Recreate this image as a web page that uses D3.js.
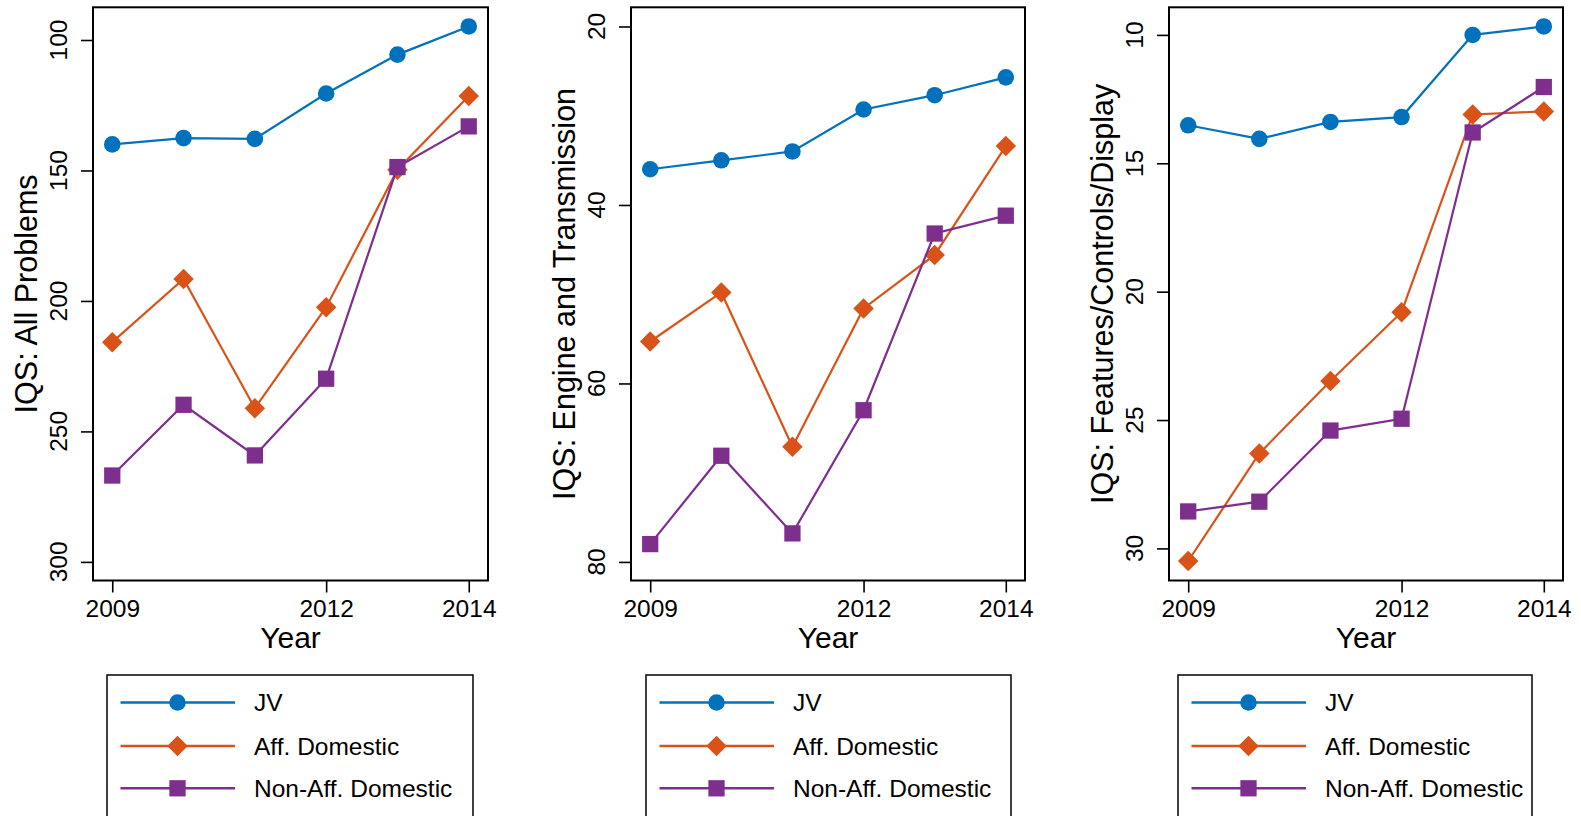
<!DOCTYPE html>
<html>
<head>
<meta charset="utf-8">
<script src="https://cdn.jsdelivr.net/npm/d3@7"></script>
<style>
  html, body { margin: 0; padding: 0; background: #fff; }
  svg { display: block; font-family: "Liberation Sans", Arial, Helvetica, sans-serif; }
</style>
</head>
<body>
<svg id="chart" width="1581" height="816"></svg>
<script>
// ---- data ----
const years = [2009, 2010, 2011, 2012, 2013, 2014];
const xTickValues = [2009, 2012, 2014];
const seriesNames = ["JV", "Aff. Domestic", "Non-Aff. Domestic"];

const allJV     = [140.0, 137.6, 137.9, 120.5, 105.6, 94.8];
const allAff    = [215.8, 191.6, 241.1, 202.4, 149.7, 121.5];
const allNonAff = [266.9, 239.8, 259.2, 229.8, 148.7, 133.1];

const engJV     = [36.0, 35.0, 34.0, 29.3, 27.7, 25.7];
const engAff    = [55.3, 49.8, 67.1, 51.6, 45.6, 33.4];
const engNonAff = [78.0, 68.1, 76.8, 63.0, 43.2, 41.2];

const featJV     = [13.52, 14.05, 13.39, 13.2, 10.0, 9.67];
const featAff    = [30.49, 26.3, 23.48, 20.8, 13.1, 12.98];
const featNonAff = [28.56, 28.18, 25.41, 24.95, 13.8, 12.03];

const panelTitles = ["IQS: All Problems", "IQS: Engine and Transmission", "IQS: Features/Controls/Display"];
const yTicksAll  = [100, 150, 200, 250, 300];
const yTicksEng  = [20, 40, 60, 80];
const yTicksFeat = [10, 15, 20, 25, 30];
// axis ranges (top value, bottom value) — reversed axes
const yRangeAll  = [87.47, 307.13];
const yRangeEng  = [17.85, 82.08];
const yRangeFeat = [8.925, 31.25];
const xRange = [2008.73, 2014.27];

// ---- styles / layout ----
const colors = ["#0072BD", "#D95319", "#7E2F8E"];
const symbols = [d3.symbolCircle, d3.symbolSquare, d3.symbolSquare];
const symSizes = [215, 210, 265];
const symRot = [0, 45, 0];

const panels = [
  { title: panelTitles[0], data: [allJV, allAff, allNonAff], ticks: yTicksAll, yr: yRangeAll,
    L: 93, R: 488, legL: 107, legR: 473 },
  { title: panelTitles[1], data: [engJV, engAff, engNonAff], ticks: yTicksEng, yr: yRangeEng,
    L: 631, R: 1025, legL: 646, legR: 1011 },
  { title: panelTitles[2], data: [featJV, featAff, featNonAff], ticks: yTicksFeat, yr: yRangeFeat,
    L: 1169, R: 1563, legL: 1178, legR: 1532 }
];
const TOP = 7.3, BOTTOM = 580.5;

const svg = d3.select("#chart");

panels.forEach(p => {
  const x = d3.scaleLinear().domain(xRange).range([p.L, p.R]);
  const y = d3.scaleLinear().domain(p.yr).range([TOP, BOTTOM]);
  const g = svg.append("g");

  // y axis
  const yAx = g.append("g").attr("transform", `translate(${p.L},0)`)
    .call(d3.axisLeft(y).tickValues(p.ticks).tickSize(12).tickFormat(d3.format("d")));
  yAx.select(".domain").remove();
  yAx.selectAll(".tick line").attr("stroke", "#000").attr("stroke-width", 1.6);
  yAx.selectAll(".tick text").remove();
  p.ticks.forEach(t => {
    g.append("text")
      .attr("transform", `translate(${p.L - 26.5},${y(t)}) rotate(-90)`)
      .attr("text-anchor", "middle")
      .attr("font-size", 24.5).attr("fill", "#000")
      .text(t);
  });

  // x axis
  const xAx = g.append("g").attr("transform", `translate(0,${BOTTOM})`)
    .call(d3.axisBottom(x).tickValues(xTickValues).tickSize(12).tickFormat(d3.format("d")));
  xAx.select(".domain").remove();
  xAx.selectAll(".tick line").attr("stroke", "#000").attr("stroke-width", 1.6);
  xAx.selectAll(".tick text").attr("font-size", 24.5).attr("fill", "#000")
    .attr("y", 0).attr("dy", 0)
    .attr("transform", "translate(0,36.5)")
    .attr("font-family", "Liberation Sans, Arial, sans-serif");

  // frame
  g.append("rect").attr("x", p.L).attr("y", TOP).attr("width", p.R - p.L).attr("height", BOTTOM - TOP)
    .attr("fill", "none").attr("stroke", "#000").attr("stroke-width", 2);

  // axis titles
  g.append("text")
    .attr("transform", `translate(${p.L - 56},${(TOP + BOTTOM) / 2}) rotate(-90)`)
    .attr("text-anchor", "middle").attr("font-size", 30.5).attr("fill", "#000")
    .text(p.title);
  g.append("text")
    .attr("x", (p.L + p.R) / 2).attr("y", 648)
    .attr("text-anchor", "middle").attr("font-size", 30).attr("fill", "#000")
    .text("Year");

  // series
  const line = d3.line().x((d, i) => x(years[i])).y(d => y(d));
  p.data.forEach((vals, si) => {
    g.append("path").datum(vals)
      .attr("d", line).attr("fill", "none")
      .attr("stroke", colors[si]).attr("stroke-width", 2.2);
    g.selectAll(null).data(vals).enter().append("path")
      .attr("d", d3.symbol().type(symbols[si]).size(symSizes[si]))
      .attr("transform", (d, i) => `translate(${x(years[i])},${y(d)}) rotate(${symRot[si]})`)
      .attr("fill", colors[si]);
  });

  // legend
  const lg = svg.append("g");
  lg.append("rect").attr("x", p.legL).attr("y", 675).attr("width", p.legR - p.legL).attr("height", 160)
    .attr("fill", "#fff").attr("stroke", "#111").attr("stroke-width", 1.6);
  const rowY = [702.5, 746, 788.3];
  const lineX0 = p.legL + 13.5, lineX1 = p.legL + 128, markX = p.legL + 70.5, textX = p.legL + 147;
  seriesNames.forEach((name, si) => {
    lg.append("line").attr("x1", lineX0).attr("x2", lineX1).attr("y1", rowY[si]).attr("y2", rowY[si])
      .attr("stroke", colors[si]).attr("stroke-width", 2.5);
    lg.append("path")
      .attr("d", d3.symbol().type(symbols[si]).size(symSizes[si]))
      .attr("transform", `translate(${markX},${rowY[si]}) rotate(${symRot[si]})`)
      .attr("fill", colors[si]);
    lg.append("text").attr("x", textX).attr("y", rowY[si] + 8.5)
      .attr("font-size", 24.5).attr("fill", "#000").text(name);
  });
});
</script>
</body>
</html>
